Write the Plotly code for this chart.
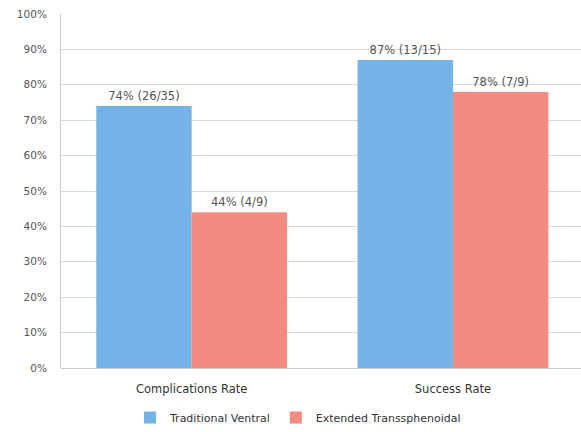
import plotly.graph_objects as go

categories = ["Complications Rate", "Success Rate"]
traditional_ventral = [74, 87]
extended_transsphenoidal = [44, 78]
tv_labels = ["74% (26/35)", "87% (13/15)"]
et_labels = ["44% (4/9)", "78% (7/9)"]
y_ticks = list(range(0, 101, 10))
y_ticktext = [f"{v}%" for v in y_ticks]

x_idx = list(range(len(categories)))
FONT = "DejaVu Sans, Open Sans, sans-serif"

fig = go.Figure()
fig.add_trace(go.Bar(
    x=x_idx, y=traditional_ventral, name="Traditional Ventral",
    text=tv_labels, textposition="outside", cliponaxis=False,
    textfont=dict(size=11.5, color="#555555", family=FONT),
    marker=dict(color="#74b2e8", line=dict(width=0)),
))
fig.add_trace(go.Bar(
    x=x_idx, y=extended_transsphenoidal, name="Extended Transsphenoidal",
    text=et_labels, textposition="outside", cliponaxis=False,
    textfont=dict(size=11.5, color="#555555", family=FONT),
    marker=dict(color="#f48b82", line=dict(width=0)),
))

fig.update_layout(
    width=581, height=432,
    margin=dict(l=61, r=0, t=14, b=58),
    paper_bgcolor="white", plot_bgcolor="white",
    font=dict(family=FONT, color="#444444"),
    barmode="group", bargap=0.27, bargroupgap=0,
    showlegend=True,
    legend=dict(orientation="h", x=(130 - 61) / 520, xanchor="left",
                y=-0.1, yanchor="top",
                font=dict(size=11, color="#333333", family=FONT), itemwidth=30,
                traceorder="normal"),
)
fig.update_xaxes(
    range=[-0.5, 1.49], tickvals=x_idx, ticktext=categories,
    showgrid=False, zeroline=False, showline=False, ticks="",
    tickfont=dict(size=11.5, color="#333333", family=FONT), ticklabelstandoff=12,
)
fig.update_yaxes(
    range=[0, 100], tickvals=y_ticks, ticktext=y_ticktext,
    showgrid=True, gridcolor="#d9d9d9", gridwidth=1,
    zeroline=True, zerolinecolor="#c8c8c8", zerolinewidth=1,
    showline=True, linecolor="#c8c8c8", linewidth=1,
    ticks="", tickfont=dict(size=10.5, color="#555555", family=FONT), ticklabelstandoff=11,
)

fig.write_html("out.html")
